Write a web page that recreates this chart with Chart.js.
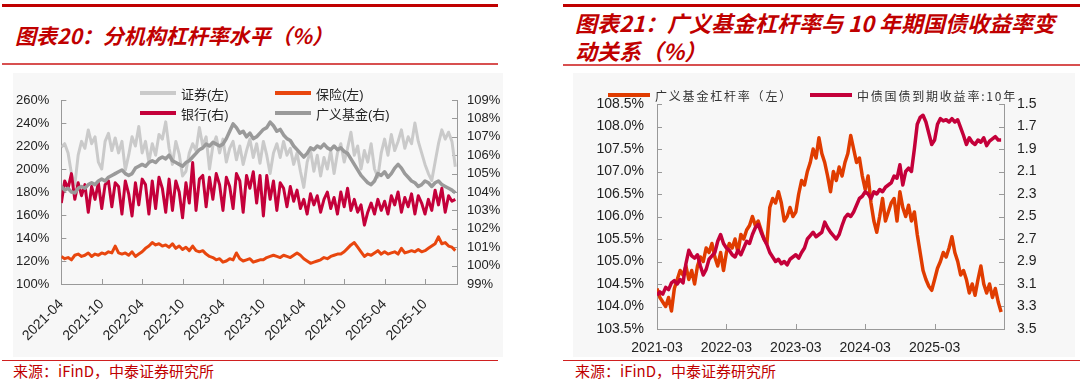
<!DOCTYPE html>
<html>
<head>
<meta charset="utf-8">
<script src="https://cdn.jsdelivr.net/npm/chart.js@4.4.1/dist/chart.umd.min.js"></script>
<style>
  body { margin: 0; width: 1080px; height: 385px; background: #fff; position: relative; overflow: hidden; }
  .bar { position: absolute; height: 3px; background: #c00000; }
  .thin { position: absolute; height: 2px; background: #d85050; }
  .foot { position: absolute; height: 1px; background: #d02020; }
  .title { position: absolute; color: #c00000; font-family: "Noto Sans CJK SC", "Liberation Sans", sans-serif;
           font-weight: bold; font-style: italic; white-space: nowrap; }
  .src { position: absolute; color: #c00000; font: 15px "Noto Sans CJK SC", sans-serif; white-space: nowrap; }
  .plate { position: absolute; background: #f7f7f7; }
  .sw { position: absolute; height: 4px; }
  .lg { position: absolute; color: #222; white-space: nowrap; transform: translateY(-50%); }
</style>
</head>
<body>

<!-- 左图 -->
<div class="bar" style="left:2px;top:4px;width:496px"></div>
<div class="title" style="left:15px;top:20px;font-size:21px;line-height:30px">图表20：分机构杠杆率水平（%）</div>
<div class="thin" style="left:2px;top:63px;width:496px"></div>
<div class="plate" style="left:13px;top:73px;width:490px;height:284px"><canvas id="leftChart" width="490" height="284"></canvas></div>
<div class="foot" style="left:2px;top:360px;width:496px"></div>
<div class="src" style="left:13px;top:361px;line-height:20px">来源：iFinD，中泰证券研究所</div>

<!-- 右图 -->
<div class="bar" style="left:563px;top:4px;width:517px"></div>
<div class="title" style="left:575px;top:8px;font-size:22px;line-height:28px">图表21：广义基金杠杆率与 10 年期国债收益率变<br>动关系（%）</div>
<div class="thin" style="left:563px;top:64px;width:517px"></div>
<div class="plate" style="left:573px;top:73px;width:502px;height:284px"><canvas id="rightChart" width="502" height="284"></canvas></div>
<div class="foot" style="left:563px;top:360px;width:517px"></div>
<div class="src" style="left:575px;top:361px;line-height:20px">来源：iFinD，中泰证券研究所</div>

<script>
// --- 数据：左图（半月一个点，起点 2021-04）---
const leftTickLabels = ['2021-04', '2021-10', '2022-04', '2022-10', '2023-04', '2023-10', '2024-04', '2024-10', '2025-04', '2025-10'];
const leftNames = ['证券(左)', '保险(左)', '银行(右)', '广义基金(右)'];

// 证券(左) %
const secLev = [
  219,222,214,196,186,212,224,218,234,222,228,206,
  200,224,231,216,227,214,224,199,212,228,220,237,
  214,224,206,222,212,230,226,241,218,204,224,213,
  194,198,214,222,216,236,220,228,200,220,228,214,
  226,206,218,224,208,220,204,216,226,210,222,205,
  224,212,196,214,222,210,224,212,218,204,214,198,
  184,206,216,198,212,194,210,200,216,196,214,222,
  206,218,232,212,220,200,216,206,222,200,193,214,
  226,212,230,216,224,234,218,228,222,240,224,214,
  204,196,190,206,222,234,226,232,224,202
];
// 保险(左) %
const insLev = [
  124,122,123,121,125,126,124,125,127,124,126,125,
  127,126,128,127,133,127,126,127,125,128,124,126,
  128,131,133,136,134,135,133,134,132,135,131,133,
  130,132,129,133,129,128,129,126,124,123,121,122,
  119,120,122,121,127,122,120,121,122,119,120,121,
  121,123,124,125,124,123,125,124,123,125,127,125,
  122,120,118,119,120,121,123,122,124,125,126,126,
  128,131,134,136,132,128,124,126,125,127,129,126,
  128,126,127,128,126,131,127,128,129,128,130,128,
  129,131,133,135,141,135,136,133,132,129
];
// 银行(右) %
const bankLev = [
  103.4,104.6,104.2,105.0,103.6,104.5,103.8,104.4,102.9,104.3,103.6,104.5,
  103.1,104.4,104.6,103.2,104.5,104.3,102.8,104.6,103.9,102.7,104.5,103.3,
  104.7,104.4,102.8,104.6,103.1,104.8,104.2,102.9,104.7,103.0,104.6,104.0,
  102.6,104.5,103.4,105.6,103.0,104.7,104.9,103.2,104.8,103.6,105.0,104.4,
  103.0,104.8,104.3,103.1,105.0,104.6,102.9,104.9,104.2,105.1,103.4,104.9,
  102.7,104.9,103.6,104.6,103.0,104.5,104.2,103.2,104.3,103.5,104.1,103.1,
  103.6,102.8,103.9,103.3,103.8,102.9,103.6,104.0,103.1,103.7,102.8,104.0,
  103.2,104.2,103.0,103.6,102.9,103.3,102.2,102.9,103.4,102.8,103.6,103.0,
  103.5,102.8,103.8,103.3,104.0,102.9,103.7,103.2,103.9,102.8,103.8,103.4,
  102.8,103.6,103.0,104.1,103.3,104.2,102.9,103.8,103.5,103.6
];
// 广义基金(右) %
const fundLev = [
  104.3,104.1,104.2,104.0,103.95,104.2,104.3,104.2,104.4,104.5,104.4,104.6,
  104.7,104.6,104.8,104.9,105.0,105.1,105.2,105.0,104.9,105.0,105.3,105.4,
  105.5,105.4,105.6,105.7,105.6,105.8,105.9,105.8,106.0,105.7,105.6,105.5,
  105.4,105.6,105.7,105.9,106.1,106.3,106.4,106.6,106.5,106.7,106.6,106.5,
  106.6,106.9,107.3,107.7,107.5,107.2,107.3,107.0,107.2,106.9,107.0,107.2,
  107.4,107.5,107.8,107.6,107.3,107.4,107.1,106.9,106.8,106.5,106.3,106.1,
  105.9,106.1,106.4,106.3,106.5,106.4,106.6,106.4,106.3,106.5,106.3,106.4,
  106.2,106.1,105.8,105.5,105.2,104.9,104.7,104.5,104.4,104.6,105.0,104.9,
  105.1,104.8,105.0,105.3,105.5,105.3,105.0,104.8,104.6,104.5,104.3,104.4,
  104.6,104.5,104.3,104.5,104.6,104.4,104.3,104.2,104.1,103.95
];

// --- 数据：右图（半月一个点，起点 2021-03）---
const rightTickLabels = ['2021-03', '2022-03', '2023-03', '2024-03', '2025-03'];
const rightNames = ['广义基金杠杆率（左）', '中债国债到期收益率:10年'];

// 广义基金杠杆率（左）%
const fundLev2 = [
  104.4,104.2,104.1,104.0,104.2,103.9,104.4,104.6,104.8,104.7,104.9,104.6,
  104.8,104.5,104.9,105.1,105.0,105.3,105.2,105.4,105.1,104.9,105.2,104.8,
  105.2,105.4,105.3,105.5,105.2,105.6,105.5,105.7,105.8,106.0,105.8,105.9,
  105.7,105.5,105.4,106.2,106.4,106.3,106.55,106.3,105.9,106.0,106.2,106.0,
  106.1,106.5,106.8,106.7,107.0,107.2,107.5,107.3,107.75,107.4,107.2,106.9,
  106.55,107.0,106.8,107.1,106.9,107.2,107.4,107.8,107.5,107.2,107.3,106.9,
  106.6,106.9,106.3,105.9,105.65,106.0,106.4,105.9,106.1,106.3,106.4,105.9,
  106.55,106.2,106.0,106.25,105.9,106.1,105.6,105.2,104.8,104.6,104.45,104.36,
  104.6,104.85,105.0,105.2,105.1,105.3,105.55,105.2,105.0,104.7,104.8,104.6,
  104.3,104.5,104.25,104.6,104.9,104.5,104.3,104.5,104.2,104.4,104.1,103.88
];
// 中债国债到期收益率:10年（右，逆序）
const cgb10y = [
  3.20,3.17,3.19,3.13,3.15,3.09,3.07,3.10,3.06,3.09,2.92,2.80,
  2.85,2.87,2.84,2.94,3.02,2.97,2.88,2.85,2.82,2.72,2.66,2.74,
  2.78,2.80,2.84,2.86,2.80,2.84,2.78,2.72,2.74,2.66,2.60,2.57,
  2.64,2.70,2.75,2.82,2.86,2.90,2.88,2.92,2.90,2.93,2.88,2.86,
  2.84,2.87,2.82,2.78,2.70,2.67,2.64,2.68,2.66,2.64,2.55,2.60,
  2.64,2.67,2.70,2.66,2.58,2.51,2.48,2.50,2.46,2.40,2.34,2.32,
  2.28,2.30,2.34,2.28,2.30,2.26,2.28,2.24,2.22,2.20,2.14,2.16,
  2.04,2.22,2.10,2.07,2.10,1.90,1.68,1.62,1.60,1.66,1.76,1.86,
  1.82,1.68,1.63,1.65,1.64,1.66,1.63,1.66,1.64,1.71,1.78,1.86,
  1.80,1.84,1.86,1.82,1.84,1.80,1.87,1.83,1.81,1.79,1.82,1.82
];

// --- 样式 ---
const C_SEC = '#cacaca', C_INS = '#e8460e', C_BANK = '#c4003a', C_FUND = '#9a9a9a';
const C_ORANGE = '#e03c00', C_RED = '#c4003a';
const NUM_FONT = '"Liberation Sans", Arial, sans-serif';
const NO_GRID = { display: false, drawTicks: false };

// x 轴按月计，半月一个点
const toPts = (arr) => arr.map((v, i) => ({ x: i * 0.5, y: v }));

// 刻度线画在坐标轴内侧
const innerTicks = {
  id: 'innerTicks',
  beforeDatasetsDraw(chart) {
    const ctx = chart.ctx, a = chart.chartArea;
    ctx.save();
    ctx.strokeStyle = '#999';
    ctx.lineWidth = 1;
    Object.values(chart.scales).forEach(s => {
      s.ticks.forEach((t, i) => {
        const p = Math.round(s.getPixelForTick(i)) + 0.5;
        ctx.beginPath();
        if (s.axis === 'x') { ctx.moveTo(p, a.bottom); ctx.lineTo(p, a.bottom - 5); }
        else if (s.position === 'left') { ctx.moveTo(a.left, p); ctx.lineTo(a.left + 5, p); }
        else { ctx.moveTo(a.right, p); ctx.lineTo(a.right - 5, p); }
        ctx.stroke();
      });
    });
    ctx.restore();
  }
};

function lineSet(label, arr, color, axis, order, width) {
  return {
    label, data: toPts(arr), yAxisID: axis, order,
    borderColor: color, backgroundColor: color, borderWidth: width,
    pointRadius: 0, tension: 0, borderJoinStyle: 'round'
  };
}

// --- 左图 ---
const leftSets = [
  lineSet(leftNames[0], secLev, C_SEC, 'yL', 3, 3),
  lineSet(leftNames[1], insLev, C_INS, 'yL', 2, 3),
  lineSet(leftNames[2], bankLev, C_BANK, 'yR', 1, 3),
  lineSet(leftNames[3], fundLev, C_FUND, 'yR', 0, 3.5)
];

new Chart(document.getElementById('leftChart'), {
  type: 'line',
  data: { datasets: leftSets },
  plugins: [innerTicks],
  options: {
    responsive: false, animation: false, events: [],
    layout: { padding: { top: 27, left: 0, right: 0, bottom: 0 } },
    plugins: { legend: { display: false }, tooltip: { enabled: false } },
    scales: {
      x: {
        type: 'linear', min: 0, max: 58.75,
        grid: NO_GRID, border: { color: '#999' },
        afterBuildTicks: s => { s.ticks = s.ticks.filter(t => t.value % 6 === 0); },
        afterFit: s => { s.height = 73; },
        ticks: {
          stepSize: 6, autoSkip: false, minRotation: 45, maxRotation: 45, padding: 12,
          color: '#222', font: { family: NUM_FONT, size: 14 },
          callback: v => leftTickLabels[v / 6] || ''
        }
      },
      yL: {
        position: 'left', min: 100, max: 260,
        grid: NO_GRID, border: { color: '#999' },
        afterFit: s => { s.width = 48; },
        ticks: { stepSize: 20, autoSkip: false, padding: 12, color: '#222', font: { family: NUM_FONT, size: 13 }, callback: v => v + '%' }
      },
      yR: {
        position: 'right', min: 99, max: 109,
        grid: NO_GRID, border: { color: '#999' },
        afterFit: s => { s.width = 46; },
        ticks: { stepSize: 1, autoSkip: false, padding: 10, color: '#222', font: { family: NUM_FONT, size: 13 }, callback: v => v + '%' }
      }
    }
  }
});

// --- 右图 ---
const rightSets = [
  lineSet(rightNames[0], fundLev2, C_ORANGE, 'yL', 1, 3.5),
  lineSet(rightNames[1], cgb10y, C_RED, 'yR', 0, 3.5)
];

new Chart(document.getElementById('rightChart'), {
  type: 'line',
  data: { datasets: rightSets },
  plugins: [innerTicks],
  options: {
    responsive: false, animation: false, events: [],
    layout: { padding: { top: 31, left: 0, right: 0, bottom: 0 } },
    plugins: { legend: { display: false }, tooltip: { enabled: false } },
    scales: {
      x: {
        type: 'linear', min: 0, max: 60,
        grid: NO_GRID, border: { color: '#999' },
        afterFit: s => { s.height = 28; },
        ticks: {
          stepSize: 12, autoSkip: false, maxRotation: 0, padding: 11,
          color: '#222', font: { family: NUM_FONT, size: 14 },
          callback: v => rightTickLabels[v / 12] || ''
        }
      },
      yL: {
        position: 'left', min: 103.5, max: 108.5,
        grid: NO_GRID, border: { color: '#999' },
        afterFit: s => { s.width = 84; },
        ticks: { stepSize: 0.5, autoSkip: false, padding: 13, color: '#222', font: { family: NUM_FONT, size: 14 }, callback: v => v.toFixed(1) + '%' }
      },
      yR: {
        position: 'right', min: 1.5, max: 3.5, reverse: true,
        grid: NO_GRID, border: { color: '#999' },
        afterFit: s => { s.width = 71; },
        ticks: { stepSize: 0.2, autoSkip: false, padding: 13, color: '#222', font: { family: NUM_FONT, size: 14 }, callback: v => v.toFixed(1) }
      }
    }
  }
});

// --- 图例（HTML）---
function addLegend(sets, spots, fontCss) {
  sets.forEach((ds, i) => {
    const p = spots[i];
    const sw = document.createElement('div');
    sw.className = 'sw';
    sw.style.cssText = `left:${p.x}px;top:${p.y - 2}px;width:${p.w}px;background:${ds.borderColor}`;
    document.body.appendChild(sw);
    const tx = document.createElement('div');
    tx.className = 'lg';
    tx.textContent = ds.label;
    tx.style.cssText = `left:${p.x + p.w + 5}px;top:${p.y}px;${fontCss}`;
    document.body.appendChild(tx);
  });
}

addLegend(leftSets, [
  { x: 140, y: 93, w: 36 }, { x: 275, y: 93, w: 36 },
  { x: 140, y: 113, w: 36 }, { x: 275, y: 113, w: 36 }
], 'font:13px "Liberation Sans","Noto Sans CJK SC",sans-serif;');

addLegend(rightSets, [
  { x: 608, y: 95, w: 42 }, { x: 810, y: 95, w: 42 }
], 'font:12px "Noto Sans CJK SC",sans-serif;letter-spacing:1.8px;color:#333;');
</script>
</body>
</html>
